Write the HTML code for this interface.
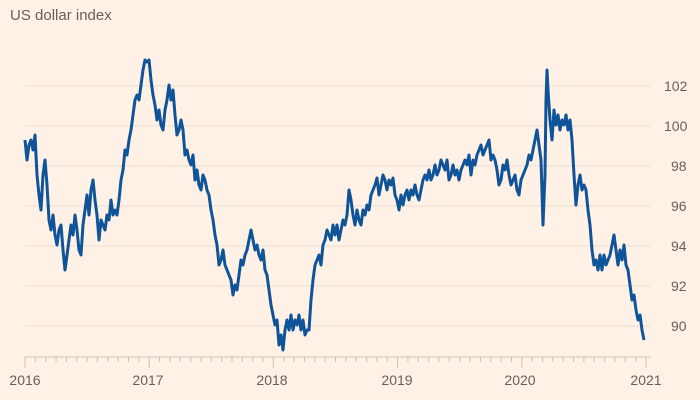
<!DOCTYPE html>
<html><head><style>
body{margin:0;background:#fff1e5;}
svg{display:block;font-family:"Liberation Sans",sans-serif;}
</style></head><body>
<svg width="700" height="400" viewBox="0 0 700 400">
<rect width="700" height="400" fill="#fff1e5"/>
<text x="10" y="20" font-size="15" fill="#66605c">US dollar index</text>
<g stroke="#eadfd5" stroke-width="1">
<line x1="25" x2="651" y1="86" y2="86"/><line x1="25" x2="651" y1="126" y2="126"/>
<line x1="25" x2="651" y1="166" y2="166"/><line x1="25" x2="651" y1="206" y2="206"/>
<line x1="25" x2="651" y1="246" y2="246"/><line x1="25" x2="651" y1="286" y2="286"/>
<line x1="25" x2="651" y1="326" y2="326"/>
</g>
<g font-size="14" fill="#66605c">
<text x="664" y="91">102</text><text x="664" y="131">100</text><text x="671" y="171">98</text>
<text x="671" y="211">96</text><text x="671" y="251">94</text><text x="671" y="291">92</text><text x="671" y="331">90</text>
</g>
<line x1="25" x2="651" y1="357" y2="357" stroke="#ccc1b7"/>
<g stroke="#ccc1b7" id="ticks"></g>
<g font-size="14" fill="#66605c" text-anchor="middle">
<text x="25" y="385">2016</text><text x="148" y="385">2017</text><text x="272" y="385">2018</text>
<text x="397" y="385">2019</text><text x="520" y="385">2020</text><text x="646" y="385">2021</text>
</g>
<polyline fill="none" stroke="#0f5499" stroke-width="3" stroke-linejoin="round" points="25,140 27,160 29,145 31,140 33,150 35,135 37,175 39,195 41,210 43,175 45,160 47,185 49,220 51,230 53,215 55,235 57,245 59,230 61,225 63,250 65,270 67,255 69,240 71,225 73,235 75,215 77,230 79,250 81,255 83,225 85,210 87,195 89,215 91,190 93,180 95,200 97,215 99,240 101,220 103,225 105,230 107,215 109,220 111,200 113,215 115,210 117,215 119,200 121,180 123,170 125,150 127,155 129,140 131,130 133,115 135,100 137,95 139,100 141,85 143,70 145,60 147,62 149,60 151,80 153,95 155,105 157,120 159,110 161,125 163,130 165,110 167,100 169,85 171,100 173,90 175,115 177,135 179,130 181,120 183,130 185,155 187,150 189,160 191,165 193,155 195,180 197,170 199,185 201,190 203,175 205,180 207,190 209,195 211,210 213,220 215,235 217,245 219,265 221,260 223,250 225,265 227,270 229,275 231,280 233,295 235,285 237,290 239,275 241,260 243,265 245,255 247,250 249,240 251,230 253,240 255,250 257,245 259,255 261,260 263,250 265,270 267,275 269,290 271,305 273,315 275,325 277,320 279,345 281,335 283,350 285,330 287,320 289,330 291,315 293,330 295,320 297,325 299,315 301,330 303,320 305,335 307,330 309,330 311,300 313,280 315,265 317,260 319,255 321,265 323,245 325,240 327,230 329,235 331,240 333,225 335,235 337,225 339,240 341,230 343,220 345,225 347,215 349,190 351,200 353,215 355,225 357,210 359,220 361,225 363,210 365,215 367,205 369,210 371,195 373,190 375,185 377,178 379,195 381,185 383,175 385,180 387,190 389,180 391,185 393,178 395,195 397,200 399,210 401,195 403,205 405,195 407,190 409,200 411,190 413,195 415,185 417,195 419,200 421,190 423,180 425,175 427,180 429,170 431,180 433,175 435,165 437,175 439,170 441,160 443,165 445,170 447,160 449,180 451,175 453,165 455,175 457,170 459,180 461,170 463,165 465,160 467,165 469,155 471,175 473,160 475,165 477,155 479,150 481,145 483,155 485,150 487,145 489,140 491,160 493,155 495,160 497,170 499,185 501,180 503,165 505,170 507,160 509,175 511,185 513,180 515,175 517,190 519,195 521,180 523,175 525,170 527,165 529,155 531,160 533,150 535,140 537,130 539,145 541,160 543,225 545,175 546,100 547,70 548,90 550,120 552,140 554,110 556,125 558,115 560,130 562,120 564,125 566,115 568,130 570,120 572,140 574,175 576,205 578,185 580,175 582,190 584,185 586,190 588,210 590,225 592,250 594,265 596,260 598,270 600,255 602,270 604,255 606,265 608,260 610,255 612,245 614,235 616,250 618,265 620,250 622,260 624,245 626,265 628,270 630,285 632,300 634,295 636,310 638,320 640,315 642,330 644,340"/>
</svg>
<script>
var g=document.getElementById('ticks'),s='';
for(var i=0;i<=60;i++){var x=25+i*621/60;var y2=(i%12==0)?368:362;s+='<line x1="'+x+'" x2="'+x+'" y1="357" y2="'+y2+'"/>';}
g.innerHTML=s;
</script>
</body></html>
